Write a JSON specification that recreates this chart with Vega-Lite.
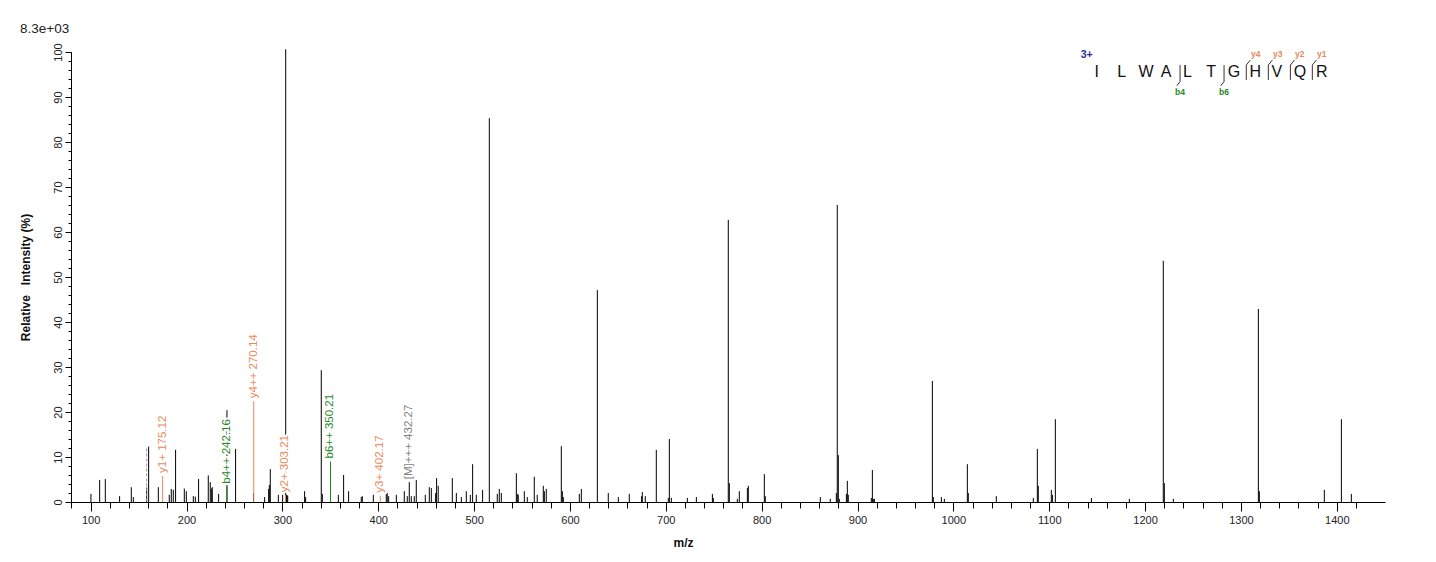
{
  "$schema": "https://vega.github.io/schema/vega-lite/v6.json",
  "width": 1314,
  "height": 450,
  "autosize": "none",
  "padding": {"left": 71, "top": 52, "right": 51, "bottom": 60},
  "background": "white",
  "config": {
    "view": {"stroke": null},
    "font": "Liberation Sans",
    "axis": {
      "grid": false,
      "domainColor": "#000",
      "tickColor": "#000",
      "labelFont": "Liberation Sans",
      "labelFontSize": 11,
      "labelColor": "#222",
      "titleFont": "Liberation Sans",
      "titleFontSize": 12,
      "titleFontWeight": "bold",
      "titleColor": "#111"
    }
  },
  "title": {
    "text": "8.3e+03",
    "anchor": "start",
    "dx": 1,
    "offset": 7,
    "fontSize": 13.5,
    "fontWeight": "normal",
    "color": "#222",
    "font": "Liberation Sans"
  },
  "datasets": {
    "peaks": [
      {"mz": 100.3, "i": 1.8}, {"mz": 109.4, "i": 4.9}, {"mz": 115.3, "i": 5.1}, {"mz": 130.2, "i": 1.3},
      {"mz": 142.4, "i": 3.3}, {"mz": 144.5, "i": 1.1}, {"mz": 158.4, "i": 3.2}, {"mz": 160.5, "i": 12.3},
      {"mz": 170.6, "i": 3.3}, {"mz": 182.0, "i": 1.6}, {"mz": 184.1, "i": 2.9}, {"mz": 186.2, "i": 2.7},
      {"mz": 188.6, "i": 11.6}, {"mz": 197.7, "i": 3.0}, {"mz": 199.8, "i": 2.4}, {"mz": 207.1, "i": 1.3},
      {"mz": 209.2, "i": 1.2}, {"mz": 212.6, "i": 5.1}, {"mz": 222.7, "i": 5.9}, {"mz": 224.8, "i": 4.4},
      {"mz": 225.9, "i": 3.0}, {"mz": 226.9, "i": 3.3}, {"mz": 233.5, "i": 1.8}, {"mz": 242.2, "i": 20.4},
      {"mz": 251.2, "i": 11.8}, {"mz": 269.9, "i": 2.0}, {"mz": 281.5, "i": 1.1}, {"mz": 285.7, "i": 2.9},
      {"mz": 286.4, "i": 3.8}, {"mz": 287.4, "i": 7.3}, {"mz": 295.8, "i": 1.6}, {"mz": 300.3, "i": 1.6},
      {"mz": 303.5, "i": 100.6}, {"mz": 304.2, "i": 1.6}, {"mz": 304.9, "i": 1.5}, {"mz": 305.6, "i": 1.4},
      {"mz": 323.2, "i": 2.4}, {"mz": 324.3, "i": 1.1}, {"mz": 340.6, "i": 29.3}, {"mz": 341.7, "i": 1.8},
      {"mz": 358.4, "i": 1.6}, {"mz": 363.9, "i": 6.0}, {"mz": 369.1, "i": 2.4}, {"mz": 382.3, "i": 1.1},
      {"mz": 383.4, "i": 1.3}, {"mz": 394.9, "i": 1.6}, {"mz": 408.4, "i": 1.8}, {"mz": 409.4, "i": 2.0},
      {"mz": 410.9, "i": 1.3}, {"mz": 418.9, "i": 1.6}, {"mz": 427.2, "i": 2.4}, {"mz": 430.3, "i": 1.3},
      {"mz": 432.4, "i": 4.4}, {"mz": 434.5, "i": 1.3}, {"mz": 437.6, "i": 1.3}, {"mz": 439.7, "i": 4.9},
      {"mz": 449.1, "i": 1.6}, {"mz": 453.3, "i": 3.3}, {"mz": 455.4, "i": 3.1}, {"mz": 459.9, "i": 2.0},
      {"mz": 460.9, "i": 5.3}, {"mz": 462.6, "i": 3.6}, {"mz": 477.3, "i": 5.3}, {"mz": 481.5, "i": 2.0},
      {"mz": 486.7, "i": 1.1}, {"mz": 491.9, "i": 2.4}, {"mz": 496.1, "i": 1.6}, {"mz": 498.5, "i": 8.4},
      {"mz": 502.3, "i": 1.6}, {"mz": 508.9, "i": 2.7}, {"mz": 515.9, "i": 85.3}, {"mz": 524.2, "i": 1.8},
      {"mz": 526.3, "i": 2.9}, {"mz": 528.4, "i": 2.0}, {"mz": 544.1, "i": 6.4}, {"mz": 545.1, "i": 1.8},
      {"mz": 546.1, "i": 1.6}, {"mz": 552.4, "i": 2.4}, {"mz": 555.5, "i": 1.1}, {"mz": 562.8, "i": 5.6},
      {"mz": 565.9, "i": 1.6}, {"mz": 572.2, "i": 3.6}, {"mz": 573.3, "i": 2.4}, {"mz": 575.3, "i": 2.9},
      {"mz": 591.0, "i": 12.4}, {"mz": 592.1, "i": 2.4}, {"mz": 593.1, "i": 1.1}, {"mz": 609.8, "i": 1.8},
      {"mz": 611.9, "i": 2.9}, {"mz": 628.6, "i": 47.1}, {"mz": 640.0, "i": 2.0}, {"mz": 650.5, "i": 1.1},
      {"mz": 661.9, "i": 1.8}, {"mz": 674.8, "i": 1.3}, {"mz": 675.5, "i": 2.2}, {"mz": 678.6, "i": 1.3},
      {"mz": 690.1, "i": 11.6}, {"mz": 702.6, "i": 0.9}, {"mz": 703.7, "i": 14.0}, {"mz": 705.8, "i": 0.9},
      {"mz": 722.5, "i": 0.9}, {"mz": 731.9, "i": 1.1}, {"mz": 748.6, "i": 1.8}, {"mz": 749.6, "i": 0.9},
      {"mz": 765.2, "i": 62.7}, {"mz": 766.3, "i": 4.2}, {"mz": 774.6, "i": 0.7}, {"mz": 776.7, "i": 2.4},
      {"mz": 785.1, "i": 3.1}, {"mz": 786.1, "i": 3.6}, {"mz": 802.8, "i": 6.2}, {"mz": 803.8, "i": 1.3},
      {"mz": 861.2, "i": 1.1}, {"mz": 871.6, "i": 0.7}, {"mz": 877.9, "i": 2.0}, {"mz": 878.9, "i": 66.0},
      {"mz": 880.0, "i": 10.4}, {"mz": 881.0, "i": 0.7}, {"mz": 888.4, "i": 1.8}, {"mz": 889.4, "i": 4.7},
      {"mz": 890.4, "i": 1.6}, {"mz": 914.4, "i": 0.9}, {"mz": 915.5, "i": 7.1}, {"mz": 916.5, "i": 0.7},
      {"mz": 917.6, "i": 0.7}, {"mz": 978.1, "i": 26.9}, {"mz": 979.1, "i": 1.1}, {"mz": 987.5, "i": 1.1},
      {"mz": 990.6, "i": 0.7}, {"mz": 1014.6, "i": 8.4}, {"mz": 1015.6, "i": 2.0}, {"mz": 1044.8, "i": 1.3},
      {"mz": 1083.4, "i": 0.9}, {"mz": 1087.6, "i": 11.8}, {"mz": 1088.6, "i": 3.6}, {"mz": 1102.2, "i": 2.7},
      {"mz": 1103.3, "i": 1.6}, {"mz": 1106.4, "i": 18.4}, {"mz": 1144.0, "i": 0.9}, {"mz": 1183.6, "i": 0.7},
      {"mz": 1219.0, "i": 53.6}, {"mz": 1220.1, "i": 4.2}, {"mz": 1229.5, "i": 0.7}, {"mz": 1318.2, "i": 42.9},
      {"mz": 1319.2, "i": 2.4}, {"mz": 1387.0, "i": 2.7}, {"mz": 1404.8, "i": 18.4}, {"mz": 1415.2, "i": 1.8}
    ],
    "ions": [
      {"mz": 175.12, "i": 5.8, "label": "y1+ 175.12", "ion": "y"},
      {"mz": 242.16, "i": 3.4, "label": "b4++ 242.16", "ion": "b"},
      {"mz": 270.14, "i": 22.4, "label": "y4++ 270.14", "ion": "y"},
      {"mz": 303.21, "i": 1.5, "label": "y2+ 303.21", "ion": "y"},
      {"mz": 350.21, "i": 9.0, "label": "b6++ 350.21", "ion": "b"},
      {"mz": 402.17, "i": 1.4, "label": "y3+ 402.17", "ion": "y"},
      {"mz": 432.27, "i": 4.4, "label": "[M]+++ 432.27", "ion": "M"}
    ],
    "seq": [
      {"aa": "I", "mz": 1149.6}, {"aa": "L", "mz": 1175.6}, {"aa": "W", "mz": 1201.0},
      {"aa": "A", "mz": 1221.9}, {"aa": "L", "mz": 1244.1}, {"aa": "T", "mz": 1268.8},
      {"aa": "G", "mz": 1292.8}, {"aa": "H", "mz": 1315.0}, {"aa": "V", "mz": 1337.4},
      {"aa": "Q", "mz": 1361.7}, {"aa": "R", "mz": 1384.3}
    ],
    "tags": [
      {"t": "y4", "mz": 1315.4, "i": 99.6, "ion": "y"},
      {"t": "y3", "mz": 1338.4, "i": 99.6, "ion": "y"},
      {"t": "y2", "mz": 1361.3, "i": 99.6, "ion": "y"},
      {"t": "y1", "mz": 1384.3, "i": 99.6, "ion": "y"},
      {"t": "b4", "mz": 1236.5, "i": 91.2, "ion": "b"},
      {"t": "b6", "mz": 1282.4, "i": 91.2, "ion": "b"}
    ],
    "brackets": [
      {"x1": 1305.6, "y1": 93.8, "x2": 1305.6, "y2": 97.1}, {"x1": 1305.6, "y1": 97.1, "x2": 1309.8, "y2": 98.2},
      {"x1": 1328.6, "y1": 93.8, "x2": 1328.6, "y2": 97.1}, {"x1": 1328.6, "y1": 97.1, "x2": 1332.8, "y2": 98.2},
      {"x1": 1351.6, "y1": 93.8, "x2": 1351.6, "y2": 97.1}, {"x1": 1351.6, "y1": 97.1, "x2": 1355.8, "y2": 98.2},
      {"x1": 1374.5, "y1": 93.8, "x2": 1374.5, "y2": 97.1}, {"x1": 1374.5, "y1": 97.1, "x2": 1378.7, "y2": 98.2},
      {"x1": 1236.5, "y1": 97.1, "x2": 1236.5, "y2": 93.4}, {"x1": 1236.5, "y1": 93.4, "x2": 1233.1, "y2": 92.5},
      {"x1": 1282.4, "y1": 97.1, "x2": 1282.4, "y2": 93.4}, {"x1": 1282.4, "y1": 93.4, "x2": 1279.0, "y2": 92.5}
    ]
  },
  "layer": [
    {
      "data": {"name": "peaks"},
      "mark": {"type": "rule", "color": "#000", "strokeWidth": 1},
      "encoding": {
        "x": {
          "field": "mz", "type": "quantitative",
          "scale": {"domain": [79.5, 1450.3], "nice": false, "zero": false},
          "axis": {
            "orient": "bottom", "labels": false, "tickSize": 6, "title": null, "domain": true,
            "values": [80, 100, 120, 140, 160, 180, 200, 220, 240, 260, 280, 300, 320, 340, 360, 380, 400, 420, 440, 460, 480, 500, 520, 540, 560, 580, 600, 620, 640, 660, 680, 700, 720, 740, 760, 780, 800, 820, 840, 860, 880, 900, 920, 940, 960, 980, 1000, 1020, 1040, 1060, 1080, 1100, 1120, 1140, 1160, 1180, 1200, 1220, 1240, 1260, 1280, 1300, 1320, 1340, 1360, 1380, 1400, 1420]
          }
        },
        "y": {
          "field": "i", "type": "quantitative",
          "scale": {"domain": [0, 100], "nice": false},
          "axis": {
            "orient": "left", "labels": false, "tickSize": 3, "title": null, "domain": true,
            "values": [0, 2, 4, 6, 8, 10, 12, 14, 16, 18, 20, 22, 24, 26, 28, 30, 32, 34, 36, 38, 40, 42, 44, 46, 48, 50, 52, 54, 56, 58, 60, 62, 64, 66, 68, 70, 72, 74, 76, 78, 80, 82, 84, 86, 88, 90, 92, 94, 96, 98, 100]
          }
        },
        "y2": {"datum": 0}
      }
    },
    {
      "data": {"values": [{"mz": 158.4, "i": 11.9}]},
      "mark": {"type": "rule", "color": "#9a9a9a", "strokeWidth": 1, "strokeDash": [3, 2]},
      "encoding": {
        "x": {"field": "mz", "type": "quantitative", "scale": {"domain": [79.5, 1450.3], "nice": false, "zero": false}, "axis": null},
        "y": {"field": "i", "type": "quantitative", "scale": {"domain": [0, 100], "nice": false}, "axis": null},
        "y2": {"datum": 0}
      }
    },
    {
      "data": {"name": "ions"},
      "transform": [{"filter": "datum.ion != 'M'"}],
      "mark": {"type": "rule", "strokeWidth": 1},
      "encoding": {
        "x": {
          "field": "mz", "type": "quantitative",
          "scale": {"domain": [79.5, 1450.3], "nice": false, "zero": false},
          "axis": {
            "orient": "bottom", "tickSize": 9, "labelPadding": 3, "domain": false, "labelFlush": false, "format": "d",
            "values": [100, 200, 300, 400, 500, 600, 700, 800, 900, 1000, 1100, 1200, 1300, 1400],
            "title": "m/z", "titleX": 612, "titleY": 40, "titleAlign": "center", "titleBaseline": "middle"
          }
        },
        "y": {
          "field": "i", "type": "quantitative",
          "scale": {"domain": [0, 100], "nice": false},
          "axis": {
            "orient": "left", "tickSize": 6, "domain": false,
            "values": [0, 10, 20, 30, 40, 50, 60, 70, 80, 90, 100],
            "labelAngle": 270, "labelAlign": "center", "labelBaseline": "bottom", "labelPadding": 2,
            "title": "Relative\u00a0\u00a0 Intensity (%)", "titleX": -46, "titleY": 225, "titleAngle": 270,
            "titleAlign": "center", "titleBaseline": "middle"
          }
        },
        "y2": {"datum": 0},
        "color": {
          "field": "ion", "type": "nominal", "legend": null,
          "scale": {"domain": ["b", "y", "M"], "range": ["#1f8a1f", "#e8895a", "#7f7f7f"]}
        }
      }
    },
    {
      "data": {"name": "ions"},
      "mark": {"type": "text", "angle": 270, "align": "left", "baseline": "middle", "dx": 3, "fontSize": 11.5, "font": "Liberation Sans", "fill": "white", "stroke": "white", "strokeWidth": 4, "strokeJoin": "round"},
      "encoding": {
        "x": {"field": "mz", "type": "quantitative", "scale": {"domain": [79.5, 1450.3], "nice": false, "zero": false}, "axis": null},
        "y": {"field": "i", "type": "quantitative", "scale": {"domain": [0, 100], "nice": false}, "axis": null},
        "text": {"field": "label"}
      }
    },
    {
      "data": {"name": "ions"},
      "mark": {"type": "text", "angle": 270, "align": "left", "baseline": "middle", "dx": 3, "fontSize": 11.5, "font": "Liberation Sans"},
      "encoding": {
        "x": {"field": "mz", "type": "quantitative", "scale": {"domain": [79.5, 1450.3], "nice": false, "zero": false}, "axis": null},
        "y": {"field": "i", "type": "quantitative", "scale": {"domain": [0, 100], "nice": false}, "axis": null},
        "text": {"field": "label"},
        "color": {"field": "ion", "type": "nominal", "legend": null, "scale": {"domain": ["b", "y", "M"], "range": ["#1f8a1f", "#e8895a", "#7f7f7f"]}}
      }
    },
    {
      "data": {"name": "brackets"},
      "mark": {"type": "rule", "color": "#333", "strokeWidth": 1},
      "encoding": {
        "x": {"field": "x1", "type": "quantitative", "scale": {"domain": [79.5, 1450.3], "nice": false, "zero": false}, "axis": null},
        "x2": {"field": "x2"},
        "y": {"field": "y1", "type": "quantitative", "scale": {"domain": [0, 100], "nice": false}, "axis": null},
        "y2": {"field": "y2"}
      }
    },
    {
      "data": {"name": "seq"},
      "mark": {"type": "text", "align": "center", "baseline": "middle", "fontSize": 16, "font": "Liberation Sans", "color": "#111"},
      "encoding": {
        "x": {"field": "mz", "type": "quantitative", "scale": {"domain": [79.5, 1450.3], "nice": false, "zero": false}, "axis": null},
        "y": {"datum": 95.5, "type": "quantitative", "scale": {"domain": [0, 100], "nice": false}, "axis": null},
        "text": {"field": "aa"}
      }
    },
    {
      "data": {"values": [{"t": "3+", "mz": 1139.1, "i": 99.3}]},
      "mark": {"type": "text", "align": "center", "baseline": "middle", "fontSize": 10.5, "fontWeight": "bold", "font": "Liberation Sans", "color": "#2a2a9a"},
      "encoding": {
        "x": {"field": "mz", "type": "quantitative", "scale": {"domain": [79.5, 1450.3], "nice": false, "zero": false}, "axis": null},
        "y": {"field": "i", "type": "quantitative", "scale": {"domain": [0, 100], "nice": false}, "axis": null},
        "text": {"field": "t"}
      }
    },
    {
      "data": {"name": "tags"},
      "mark": {"type": "text", "align": "center", "baseline": "middle", "fontSize": 8.5, "fontWeight": "bold", "font": "Liberation Sans"},
      "encoding": {
        "x": {"field": "mz", "type": "quantitative", "scale": {"domain": [79.5, 1450.3], "nice": false, "zero": false}, "axis": null},
        "y": {"field": "i", "type": "quantitative", "scale": {"domain": [0, 100], "nice": false}, "axis": null},
        "text": {"field": "t"},
        "color": {"field": "ion", "type": "nominal", "legend": null, "scale": {"domain": ["b", "y", "M"], "range": ["#1f8a1f", "#e8895a", "#7f7f7f"]}}
      }
    }
  ],
  "resolve": {"axis": {"x": "independent", "y": "independent"}}
}
